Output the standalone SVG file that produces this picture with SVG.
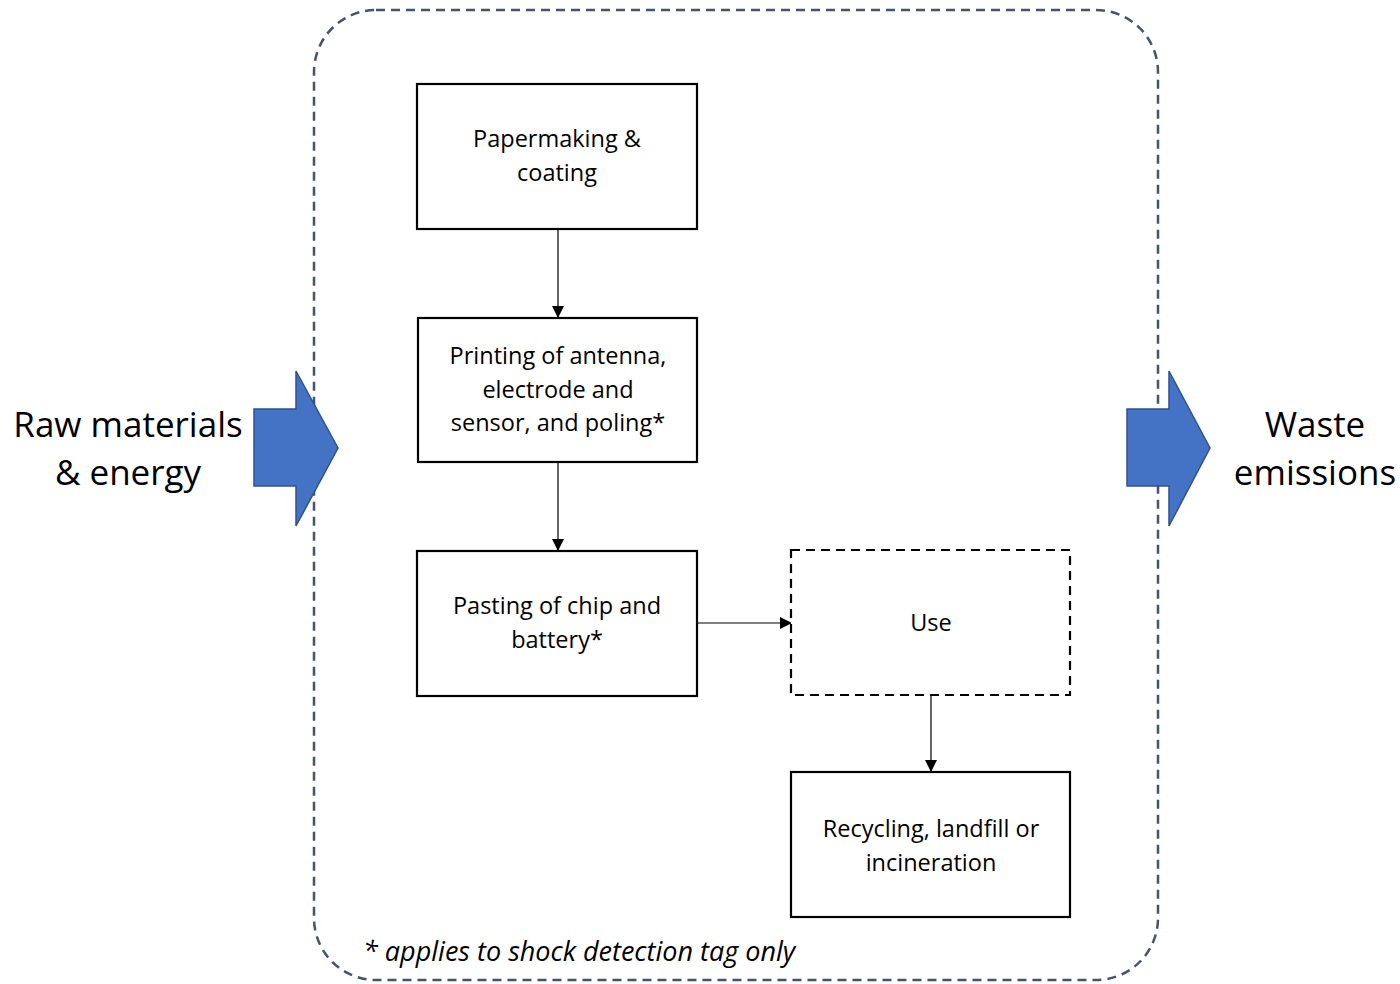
<svg xmlns="http://www.w3.org/2000/svg" width="1400" height="984" viewBox="0 0 1400 984">
<defs>
<style>
.box{fill:#fff;stroke:#000;stroke-width:2.2}
.dbox{fill:#fff;stroke:#000;stroke-width:2.2;stroke-dasharray:9 6}
.t{font-family:"Open Sans","Liberation Sans",sans-serif;font-size:23.5px;fill:#000;text-anchor:middle}
.big{font-family:"Open Sans","Liberation Sans",sans-serif;font-size:35px;fill:#000;text-anchor:middle}
.conn{stroke:#000;stroke-width:1.2;fill:none;marker-end:url(#ah)}
.barrow{fill:#4472C4;stroke:#2F528F;stroke-width:1.5}
</style>
<marker id="ah" markerWidth="12" markerHeight="12" refX="11" refY="6" orient="auto" markerUnits="userSpaceOnUse" viewBox="0 0 12 12">
<path d="M0,0 L12,6 L0,12 z" fill="#000"/>
</marker>
</defs>
<rect width="1400" height="984" fill="#fff"/>
<g id="boundary">
<rect x="314" y="10" width="844" height="970" rx="62" ry="62" fill="none" stroke="#44546A" stroke-width="2.5" stroke-dasharray="9 6"/>
</g>
<g id="input">
<polygon class="barrow" points="254,409 296,409 296,371 338,448 296,526 296,486 254,486"/>
<text class="big" x="128" y="437">Raw materials</text>
<text class="big" x="128" y="485">&amp; energy</text>
</g>
<g id="output">
<polygon class="barrow" points="1127,409 1169,409 1169,371 1210,448 1169,526 1169,486 1127,486"/>
<text class="big" x="1315" y="437">Waste</text>
<text class="big" x="1315" y="485">emissions</text>
</g>
<g id="connectors">
<line class="conn" x1="558" y1="229" x2="558" y2="317"/>
<line class="conn" x1="558" y1="462" x2="558" y2="550"/>
<line class="conn" x1="697" y1="623" x2="791" y2="623"/>
<line class="conn" x1="931" y1="695" x2="931" y2="771"/>
</g>
<g id="papermaking">
<rect class="box" x="417" y="84" width="280" height="145"/>
<text class="t" x="557" y="147">Papermaking &amp;</text>
<text class="t" x="557" y="181">coating</text>
</g>
<g id="printing">
<rect class="box" x="418" y="318" width="279" height="144"/>
<text class="t" x="558" y="364">Printing of antenna,</text>
<text class="t" x="558" y="398">electrode and</text>
<text class="t" x="558" y="431">sensor, and poling*</text>
</g>
<g id="pasting">
<rect class="box" x="417" y="551" width="280" height="145"/>
<text class="t" x="557" y="614">Pasting of chip and</text>
<text class="t" x="557" y="648">battery*</text>
</g>
<g id="use">
<rect class="dbox" x="791" y="550" width="279" height="145"/>
<text class="t" x="931" y="631">Use</text>
</g>
<g id="eol">
<rect class="box" x="791" y="772" width="279" height="145"/>
<text class="t" x="931" y="837">Recycling, landfill or</text>
<text class="t" x="931" y="871">incineration</text>
</g>
<g id="note">
<text x="363" y="961" font-family="Open Sans, Liberation Sans, sans-serif" font-style="italic" font-size="27" fill="#000">* applies to shock detection tag only</text>
</g>
</svg>
